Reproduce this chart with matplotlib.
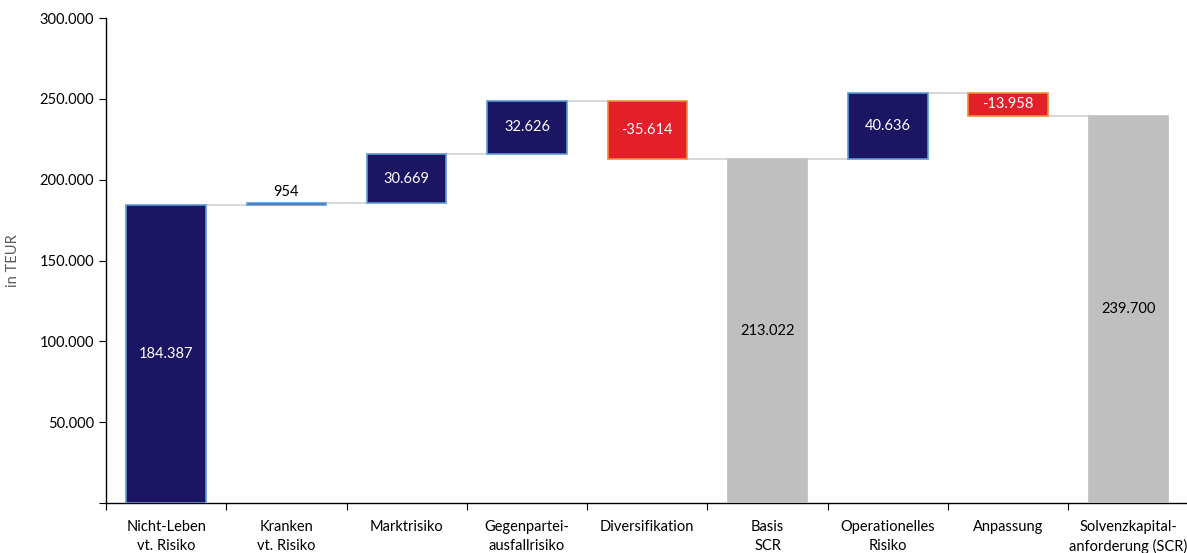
import numpy as np
import matplotlib
matplotlib.use("Agg")
import matplotlib.pyplot as plt
from matplotlib.ticker import FuncFormatter

plt.rcParams["font.family"] = ["Lato", "DejaVu Sans"]

# Waterfall data (in TEUR)
categories = ["Nicht-Leben\nvt. Risiko", "Kranken\nvt. Risiko", "Marktrisiko",
              "Gegenpartei-\nausfallrisiko", "Diversifikation", "Basis\nSCR",
              "Operationelles\nRisiko", "Anpassung", "Solvenzkapital-\nanforderung (SCR)"]
values = [184387, 954, 30669, 32626, -35614, 213022, 40636, -13958, 239700]
kinds = ["step", "step", "step", "step", "step", "total", "step", "step", "total"]
labels = ["184.387", "954", "30.669", "32.626", "-35.614", "213.022", "40.636", "-13.958", "239.700"]

navy = "#1c1563"
blue_edge = "#5b9bd5"
red = "#e3202a"
red_edge = "#f08a3c"
grey = "#bfbfbf"

fig = plt.figure(figsize=(11.87, 5.53), dpi=100)
ax = fig.add_axes([0.0893, 0.0904, 0.912, 0.877])

x = np.arange(len(categories))
w = 0.66
running = 0
tops = []
for i, (v, k) in enumerate(zip(values, kinds)):
    if k == "total":
        bottom, height = 0, v
        running = v
        fc, ec = grey, grey
    else:
        bottom = running if v >= 0 else running + v
        height = abs(v)
        running += v
        if v >= 0:
            fc, ec = navy, blue_edge
        else:
            fc, ec = red, red_edge
    ax.bar(x[i], height, bottom=bottom, width=w, color=fc, edgecolor=ec,
           linewidth=1.2, zorder=3)
    tops.append(running)
    if abs(v) < 5000:
        ax.text(x[i], bottom + height + 2500, labels[i], ha="center", va="bottom",
                fontsize=10.5, color="black", zorder=4)
    else:
        tc = "black" if k == "total" else "white"
        ax.text(x[i], bottom + height / 2, labels[i], ha="center", va="center",
                fontsize=10.5, color=tc, zorder=4)

# connector lines between bars
for i in range(len(values) - 1):
    ax.plot([x[i] + w / 2, x[i + 1] - w / 2], [tops[i], tops[i]],
            color="#d9d9d9", linewidth=1.5, zorder=2)

ax.set_xlim(-0.5, len(categories) - 0.5)
ax.set_ylim(0, 300000)
ax.set_yticks(np.arange(0, 300001, 50000))
ax.yaxis.set_major_formatter(FuncFormatter(
    lambda v, p: "" if v == 0 else f"{int(v):,}".replace(",", ".")))
ax.set_ylabel("in TEUR", color="#595959", fontsize=10.5, labelpad=14)

ax.set_xticks(np.arange(-0.5, len(categories), 1.0))
ax.set_xticklabels([])
ax.set_xticks(x, minor=True)
ax.set_xticklabels(categories, minor=True, fontsize=10.5, linespacing=1.45)
ax.tick_params(axis="x", which="minor", length=0, pad=12)
ax.tick_params(axis="x", which="major", length=5, direction="out")
ax.tick_params(axis="y", length=5, direction="out", labelsize=10.5)

for s in ["top", "right"]:
    ax.spines[s].set_visible(False)
ax.spines["left"].set_linewidth(1.0)
ax.spines["bottom"].set_linewidth(1.0)

fig.savefig("out.png", dpi=100)
